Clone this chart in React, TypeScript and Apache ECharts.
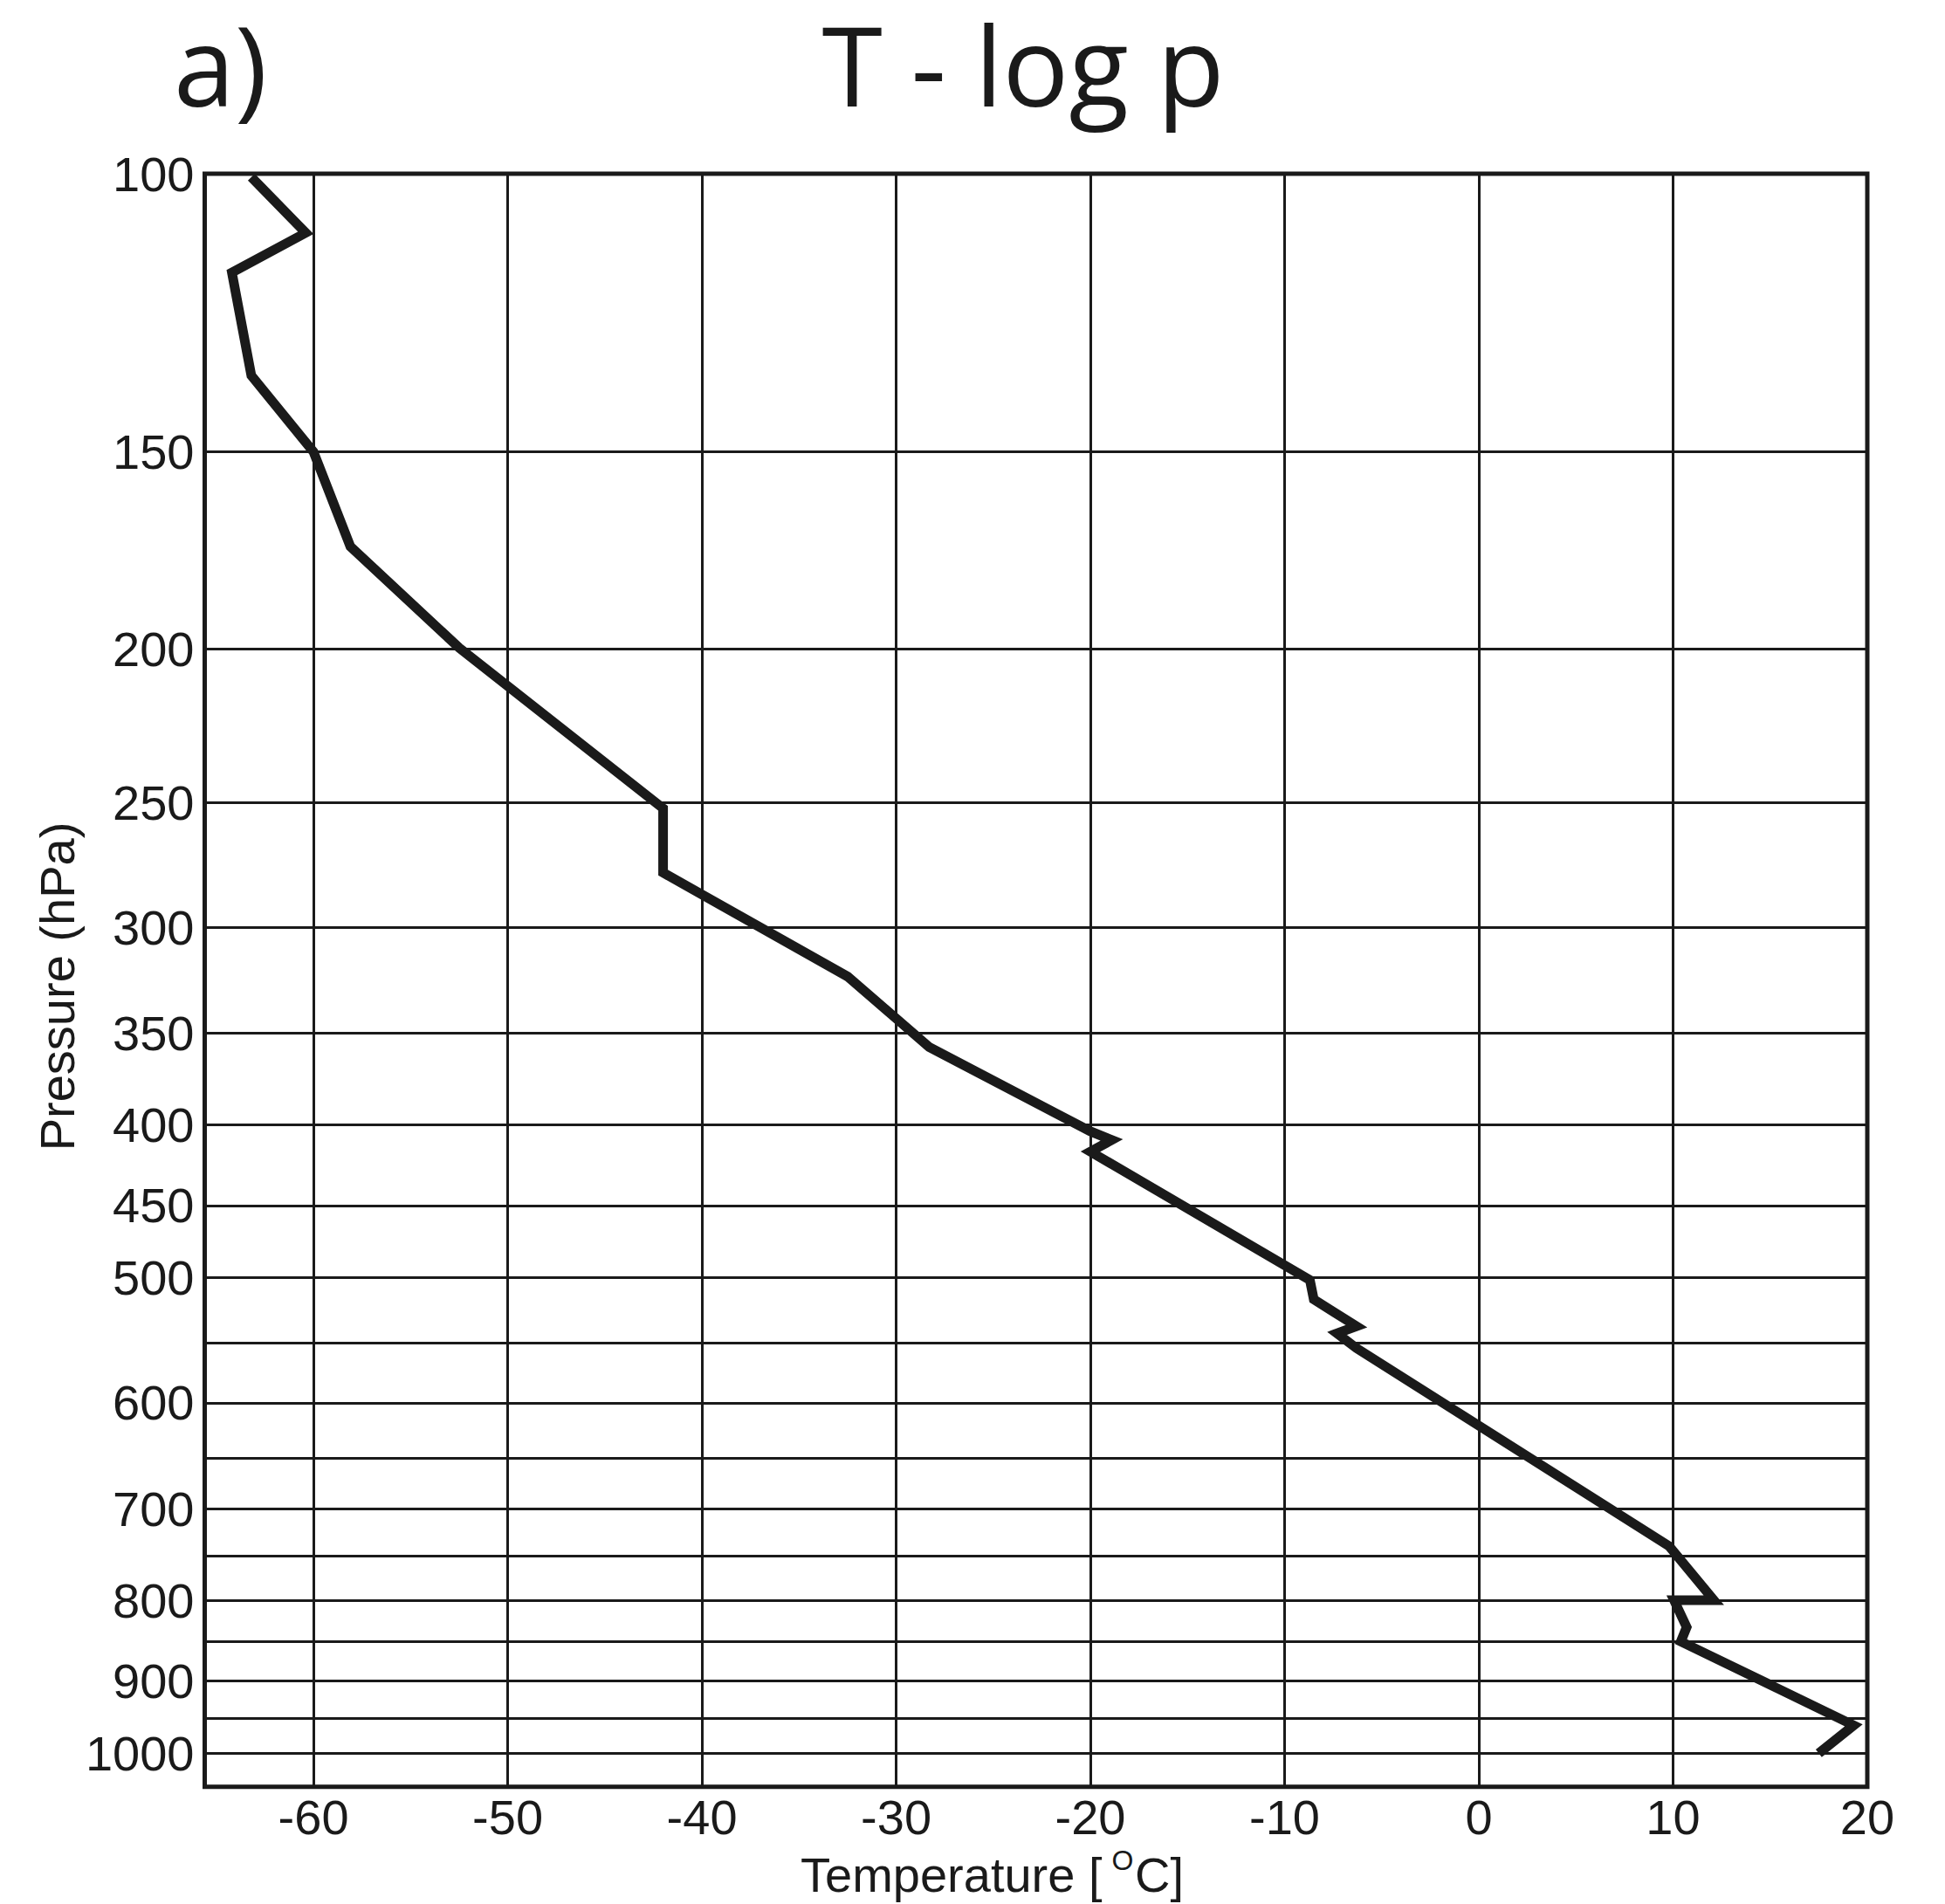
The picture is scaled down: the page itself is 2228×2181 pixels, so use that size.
import React, { useEffect, useRef } from 'react';
import * as echarts from 'echarts';

// Sounding profile (pressure in hPa, temperature in °C)
const pressureHPa = [
  100.5, 109, 115.5, 134.2, 150, 172.2, 199.6, 252.2, 277, 322.3, 357.2,
  403.9, 409, 416, 501.6, 516, 536.6, 542.2, 554, 739.5, 800, 800,
  832, 849.7, 960, 1000,
];
const temperatureC = [
  -63.2, -60.4, -64.2, -63.2, -60.0, -58.1, -52.5, -42.0, -42.0, -32.5, -28.3,
  -20.0, -18.9, -20.0, -8.7, -8.5, -6.3, -7.3, -6.3, 9.8, 12.1, 10.05,
  10.7, 10.4, 19.3, 17.5,
];

const labeledPressures = [100, 150, 200, 250, 300, 350, 400, 450, 500, 600, 700, 800, 900, 1000];
const unlabeledPressures = [550, 650, 750, 850, 950];
const temperatureTicks = [-60, -50, -40, -30, -20, -10, 0, 10, 20];

const INK = '#1a1a1a';
const LABEL_FONT = 'Liberation Sans, Arial, sans-serif';
const TITLE_FONT = 'Open Sans, Noto Sans, sans-serif';

export default function App() {
  const ref = useRef<HTMLDivElement>(null);

  useEffect(() => {
    if (!ref.current) return;
    const chart = echarts.init(ref.current, null, { renderer: 'svg' });

    const gridLines = [
      ...labeledPressures.map((p) => ({
        yAxis: p,
        label: { show: true, formatter: String(p) },
      })),
      ...unlabeledPressures.map((p) => ({ yAxis: p, label: { show: false } })),
    ];

    chart.setOption({
      animation: false,
      backgroundColor: '#ffffff',
      grid: {
        left: 234.5,
        top: 199,
        width: 1904.5,
        height: 1847.7,
        show: true,
        borderColor: INK,
        borderWidth: 5,
        backgroundColor: 'transparent',
        containLabel: false,
        outerBoundsMode: 'none',
      },
      xAxis: {
        type: 'value',
        min: -65.6,
        max: 20,
        axisLine: { show: false },
        axisTick: { show: false, customValues: temperatureTicks },
        axisLabel: {
          customValues: temperatureTicks,
          fontSize: 56,
          fontFamily: LABEL_FONT,
          color: INK,
          margin: 7,
        },
        splitLine: { show: true, lineStyle: { color: INK, width: 3 } },
      },
      yAxis: {
        type: 'log',
        logBase: 10,
        min: 100,
        max: 1050,
        inverse: true,
        axisLine: { show: false },
        axisTick: { show: false },
        axisLabel: { show: false },
        splitLine: { show: false },
        minorSplitLine: { show: false },
      },
      series: [
        {
          type: 'line',
          data: pressureHPa.map((p, i) => [temperatureC[i], p]),
          symbol: 'none',
          showSymbol: false,
          z: 3,
          lineStyle: { color: INK, width: 11, join: 'miter', miterLimit: 10, cap: 'butt' },
          markLine: {
            silent: true,
            z: 1,
            symbol: ['none', 'none'],
            animation: false,
            lineStyle: { color: INK, width: 3, type: 'solid' },
            label: {
              position: 'start',
              distance: 12,
              fontSize: 56,
              fontFamily: LABEL_FONT,
              color: INK,
            },
            emphasis: { disabled: true },
            data: gridLines,
          },
        },
      ],
      graphic: [
        {
          type: 'text',
          x: 199,
          y: 73,
          style: {
            text: 'a)',
            font: `126px ${TITLE_FONT}`,
            fill: INK,
            textAlign: 'left',
            textVerticalAlign: 'middle',
          },
        },
        {
          type: 'text',
          x: 1172,
          y: 73,
          style: {
            text: 'T - log p',
            font: `126px ${TITLE_FONT}`,
            fill: INK,
            textAlign: 'center',
            textVerticalAlign: 'middle',
          },
        },
        {
          type: 'text',
          x: 65,
          y: 1130,
          rotation: Math.PI / 2,
          style: {
            text: 'Pressure (hPa)',
            font: `56px ${LABEL_FONT}`,
            fill: INK,
            textAlign: 'center',
            textVerticalAlign: 'middle',
          },
        },
        {
          type: 'text',
          x: 917,
          y: 2147,
          style: {
            text: 'Temperature [',
            font: `56px ${LABEL_FONT}`,
            fill: INK,
            textAlign: 'left',
            textVerticalAlign: 'middle',
          },
        },
        {
          type: 'text',
          x: 1286,
          y: 2131,
          style: {
            text: 'O',
            font: `32px ${LABEL_FONT}`,
            fill: INK,
            textAlign: 'center',
            textVerticalAlign: 'middle',
          },
        },
        {
          type: 'text',
          x: 1300,
          y: 2147,
          style: {
            text: 'C]',
            font: `56px ${LABEL_FONT}`,
            fill: INK,
            textAlign: 'left',
            textVerticalAlign: 'middle',
          },
        },
      ],
    });

    return () => chart.dispose();
  }, []);

  return (
    <div
      ref={ref}
      style={{ position: 'fixed', left: 0, top: 0, width: 2228, height: 2181, background: '#fff' }}
    />
  );
}
